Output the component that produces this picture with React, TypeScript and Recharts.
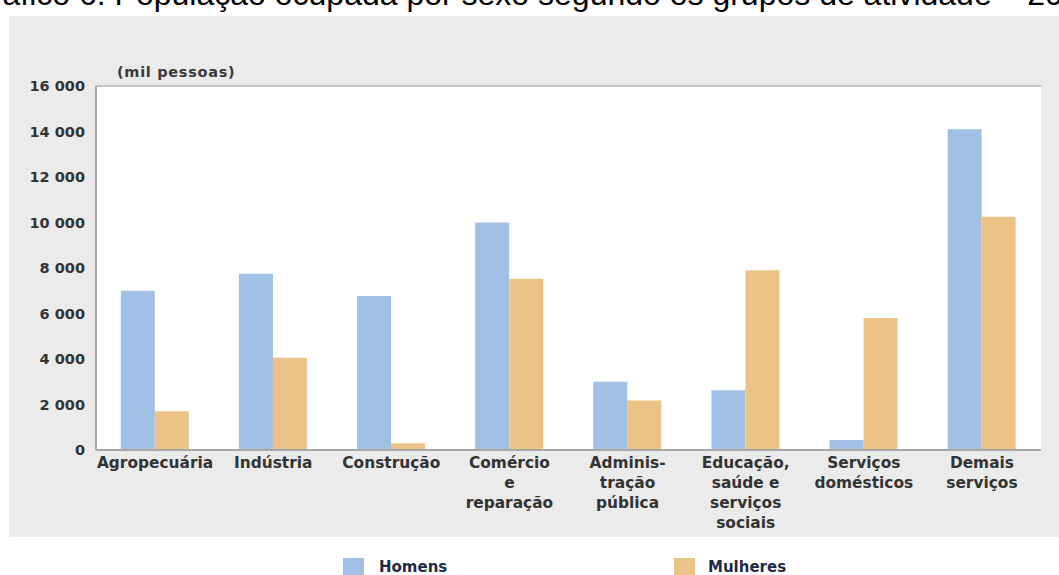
import React from 'react';
import { BarChart, Bar, XAxis, YAxis, CartesianGrid, Legend } from 'recharts';

const categories = [
  'Agropecuária',
  'Indústria',
  'Construção',
  'Comércio\ne\nreparação',
  'Adminis-\ntração\npública',
  'Educação,\nsaúde e\nserviços\nsociais',
  'Serviços\ndomésticos',
  'Demais\nserviços',
];
const homens = [7000, 7750, 6770, 10000, 3000, 2630, 440, 14100];
const mulheres = [1700, 4050, 300, 7530, 2180, 7900, 5800, 10250];
const yTicks = [0, 2000, 4000, 6000, 8000, 10000, 12000, 14000, 16000];
const seriesNames = ['Homens', 'Mulheres'];
const colors = ['#A0C0E6', '#EBC387'];

const data = categories.map((c, i) => ({ cat: c, Homens: homens[i], Mulheres: mulheres[i] }));

const FONT = '"DejaVu Sans", sans-serif';
const TEXT = '#333333';

const fmt = (v: number) => {
  const s = String(v);
  return s.length > 3 ? s.slice(0, s.length - 3) + ' ' + s.slice(s.length - 3) : s;
};

const XTick = (props: any) => {
  const { x, y, payload } = props;
  const lines = String(payload.value).split('\n');
  return (
    <g>
      {lines.map((l: string, i: number) => (
        <text
          key={i}
          x={x}
          y={y + 18 + i * 20}
          textAnchor="middle"
          fontFamily={FONT}
          fontWeight="bold"
          fontSize={15.4}
          fill={TEXT}
        >
          {l}
        </text>
      ))}
    </g>
  );
};

const LegendContent = () => (
  <div style={{ position: 'relative', width: 1059, height: 575 }}>
    {seriesNames.map((n, i) => (
      <div key={n} style={{ position: 'absolute', left: i === 0 ? 343 : 674, top: 558, display: 'flex', alignItems: 'flex-start' }}>
        <div style={{ width: 21, height: 20, background: colors[i] }} />
        <div style={{ marginLeft: i === 0 ? 15 : 13, fontFamily: FONT, fontWeight: 'bold', fontSize: 15, color: '#1f2a44', lineHeight: '17px', marginTop: 1 }}>{n}</div>
      </div>
    ))}
  </div>
);

export default function App() {
  return (
    <div style={{ position: 'absolute', left: 0, top: 0, width: 1059, height: 575, overflow: 'hidden', background: '#fff' }}>
      <svg style={{ position: 'absolute', left: 0, top: 0 }} width={1059} height={20}>
        <text x={-33} y={5} fontFamily='"Liberation Sans", Arial, sans-serif' fontSize={32} fill="#000">
          Gráfico 6: População ocupada por sexo segundo os grupos de atividade – 2012
        </text>
      </svg>
      <div style={{ position: 'absolute', left: 9, top: 16, width: 1060, height: 521, background: '#EBEBEB' }} />
      <div style={{ position: 'absolute', left: 0, top: 0 }}>
        <BarChart
          width={1059}
          height={575}
          data={data}
          margin={{ top: 86, right: 18, bottom: 25, left: 0 }}
          barCategoryGap="21%"
          barGap={0}
        >
          <CartesianGrid vertical={false} stroke="#b3b3b3" strokeWidth={1.5} fill="#ffffff" />
          <XAxis
            dataKey="cat"
            interval={0}
            height={100}
            tickSize={0}
            tickMargin={0}
            tick={<XTick />}
            axisLine={{ stroke: '#a8a8a8', strokeWidth: 2 }}
          />
          <YAxis
            yAxisId="left"
            width={96}
            domain={[0, 16000]}
            ticks={yTicks}
            tickFormatter={fmt}
            tickSize={0}
            tickMargin={11}
            axisLine={{ stroke: '#a8a8a8', strokeWidth: 2 }}
            tick={{ fontFamily: FONT, fontWeight: 'bold', fontSize: 14.5, fill: TEXT }}
            interval={0}
          />
          <YAxis
            yAxisId="right"
            orientation="right"
            width={0}
            domain={[0, 16000]}
            ticks={yTicks}
            tick={false}
            tickLine={false}
            axisLine={{ stroke: '#c4c4c4', strokeWidth: 2 }}
          />
          <Bar yAxisId="left" dataKey="Homens" fill={colors[0]} isAnimationActive={false} />
          <Bar yAxisId="left" dataKey="Mulheres" fill={colors[1]} isAnimationActive={false} />
          <Legend
            verticalAlign="middle"
            layout="horizontal"
            content={<LegendContent />}
            wrapperStyle={{ position: 'absolute', left: 0, top: 0, width: 1059, height: 575, pointerEvents: 'none' }}
          />
        </BarChart>
      </div>
      <div style={{ position: 'absolute', left: 117, top: 64, fontFamily: FONT, fontWeight: 'bold', fontSize: 14.5, color: '#3a3a3a', letterSpacing: 0.7 }}>
        (mil pessoas)
      </div>
    </div>
  );
}
